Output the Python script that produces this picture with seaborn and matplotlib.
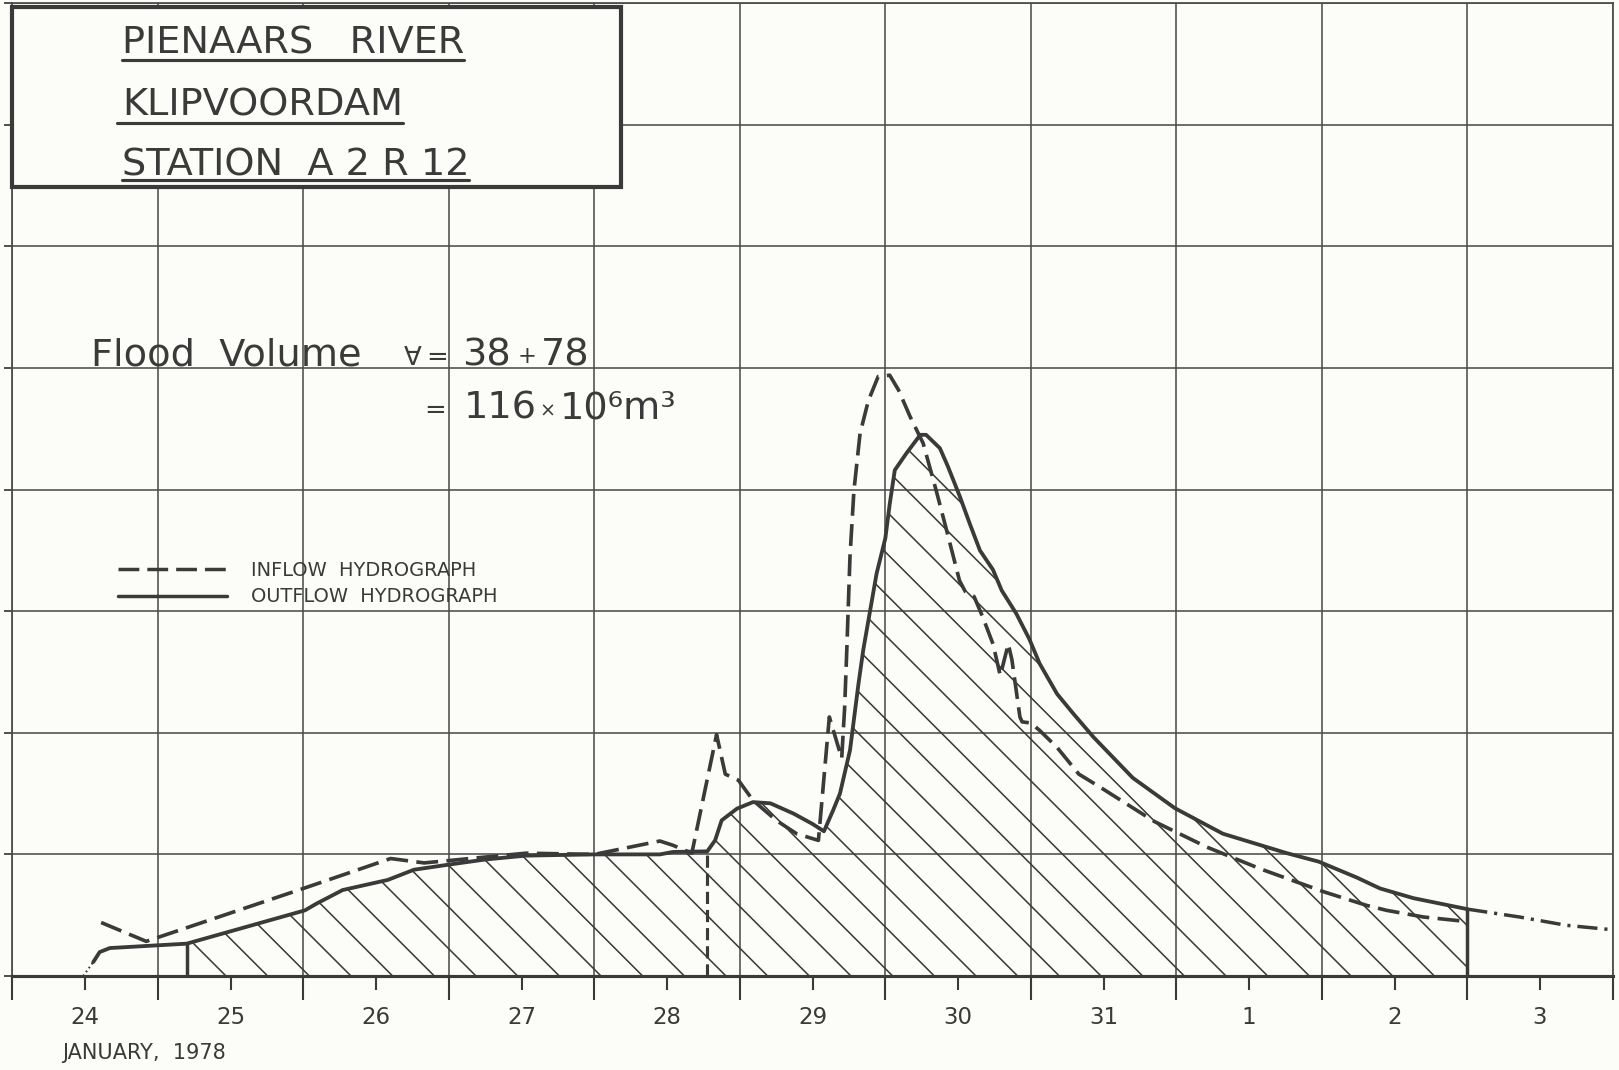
import numpy as np
import pandas as pd
import matplotlib
matplotlib.use("Agg")
import matplotlib.pyplot as plt
import seaborn as sns
from matplotlib.lines import Line2D
from matplotlib.patches import Rectangle

# ---------------- data ----------------
# x: days after 24 January 1978 00:00 ; y: discharge in chart grid units
day_labels = ["24", "25", "26", "27", "28", "29", "30", "31", "1", "2", "3"]

inflow_day = [0.61, 0.92, 2.00, 2.60, 2.83, 3.53, 4.00, 4.45, 4.54, 4.67, 4.84, 4.90,
              4.99, 5.09, 5.25, 5.39, 5.54, 5.615, 5.70, 5.72, 5.735, 5.757, 5.784,
              5.826, 5.883, 5.951, 6.03, 6.09, 6.17, 6.26, 6.35, 6.42, 6.48, 6.51,
              6.55, 6.61, 6.67, 6.74, 6.79, 6.845, 6.87, 6.925, 6.94, 7.00, 7.06,
              7.18, 7.33, 7.48, 7.85, 8.21, 8.58, 9.02, 9.31, 9.445, 9.70, 9.98]
inflow_q = [0.44, 0.285, 0.72, 0.966, 0.93, 1.01, 1.00, 1.11, 1.075, 1.01, 1.985, 1.66,
            1.61, 1.445, 1.28, 1.17, 1.115, 2.13, 1.79, 2.20, 2.68, 3.45, 3.99,
            4.46, 4.73, 4.93, 4.94, 4.82, 4.60, 4.38, 3.99, 3.67, 3.39, 3.25,
            3.16, 3.12, 2.95, 2.73, 2.47, 2.73, 2.60, 2.13, 2.09, 2.08, 2.02,
            1.88, 1.66, 1.55, 1.27, 1.06, 0.88, 0.69, 0.58, 0.54, 0.485, 0.45]

outflow_day = [0.556, 0.60, 0.67, 1.198, 2.011, 2.09, 2.27, 2.58, 2.76, 3.00, 3.25, 3.53,
               4.00, 4.45, 4.54, 4.776, 4.83, 4.875, 4.98, 5.09, 5.21, 5.37, 5.50,
               5.578, 5.64, 5.688, 5.757, 5.815, 5.848, 5.94, 6.00, 6.03, 6.065,
               6.146, 6.24, 6.28, 6.375, 6.43, 6.513, 6.58, 6.65, 6.74, 6.80, 6.90,
               6.99, 7.06, 7.18, 7.29, 7.43, 7.70, 7.99, 8.32, 8.76, 8.98, 9.24,
               9.40, 9.63, 10.0]
outflow_q = [0.115, 0.197, 0.23, 0.266, 0.54, 0.595, 0.707, 0.79, 0.874, 0.916, 0.958, 0.99,
             1.00, 1.00, 1.02, 1.025, 1.116, 1.28, 1.376, 1.43, 1.42, 1.335, 1.25,
             1.19, 1.36, 1.50, 1.856, 2.40, 2.68, 3.31, 3.60, 3.88, 4.16,
             4.30, 4.45, 4.45, 4.34, 4.19, 3.94, 3.72, 3.50, 3.34, 3.17, 2.98,
             2.77, 2.57, 2.32, 2.16, 1.965, 1.63, 1.38, 1.17, 1.01, 0.94, 0.81,
             0.72, 0.64, 0.55]

outflow_start_day = [0.487, 0.556]
outflow_start_q = [0.0, 0.115]

recession_day = [10.0, 10.36, 10.68, 11.0]
recession_q = [0.55, 0.485, 0.417, 0.38]

hatch_start_day = 1.198
split_day = 4.776

title_lines = ["PIENAARS   RIVER", "KLIPVOORDAM", "STATION  A 2 R 12"]
legend_labels = ["INFLOW  HYDROGRAPH", "OUTFLOW  HYDROGRAPH"]

# ---------------- style ----------------
sns.set_style("white")
plt.rcParams["font.family"] = ["DejaVu Sans"]
plt.rcParams["hatch.linewidth"] = 0.45
INK = "#3a3a3a"
GRID = "#4a4a4a"
BG = "#fcfcf8"
plt.rcParams["hatch.color"] = INK

DPI = 250
fig = plt.figure(figsize=(1619 / DPI, 1070 / DPI), dpi=DPI)
fig.patch.set_facecolor(BG)
ax = fig.add_axes([12 / 1568, 1 - 945 / 1036, 1550 / 1568, 942 / 1036])
ax.set_facecolor(BG)

df_in = pd.DataFrame({"day": inflow_day, "q": inflow_q})
df_out = pd.DataFrame({"day": outflow_day, "q": outflow_q})
df_start = pd.DataFrame({"day": outflow_start_day, "q": outflow_start_q})
df_rec = pd.DataFrame({"day": recession_day, "q": recession_q})

# hatched outflow volume
hx = np.array(outflow_day)
hq = np.array(outflow_q)
m = hx >= hatch_start_day
ax.fill_between(hx[m], 0, hq[m], facecolor="none", edgecolor=INK, hatch="\\\\",
                linewidth=0, zorder=2)
ax.vlines([hatch_start_day, hx[-1]], 0, [np.interp(hatch_start_day, hx, hq), hq[-1]],
          colors=INK, linewidth=1.0, zorder=3)

# split between the two volumes
ax.vlines([split_day], 0, [np.interp(split_day, hx, hq)], colors=INK, linewidth=0.9,
          linestyles=[(0, (3.9, 1.9))], zorder=3)

sns.lineplot(data=df_in, x="day", y="q", ax=ax, color=INK, linewidth=1.05,
             linestyle=(0, (6.0, 2.3)), estimator=None, sort=False, legend=False, zorder=4)
sns.lineplot(data=df_out, x="day", y="q", ax=ax, color=INK, linewidth=1.1,
             estimator=None, sort=False, legend=False, zorder=4)
sns.lineplot(data=df_start, x="day", y="q", ax=ax, color=INK, linewidth=0.6,
             linestyle=(0, (0.8, 1.5)), estimator=None, sort=False, legend=False, zorder=4)
sns.lineplot(data=df_rec, x="day", y="q", ax=ax, color=INK, linewidth=1.0,
             linestyle=(0, (5.8, 2.0, 0.9, 2.0)), estimator=None, sort=False,
             legend=False, zorder=4)

# axes, ticks, grid
ax.set_xlim(0, 11)
ax.set_ylim(0, 8)
ax.set_xlabel("")
ax.set_ylabel("")
ax.set_xticks(np.arange(0, 12))
ax.set_xticklabels([])
ax.set_xticks(np.arange(0.5, 11), labels=day_labels, minor=True)
ax.set_yticks(np.arange(0, 9))
ax.set_yticklabels([])
ax.grid(True, which="major", color=GRID, linewidth=0.45, zorder=1)
ax.set_axisbelow(True)
ax.tick_params(axis="x", which="major", bottom=True, length=6.8, width=0.6,
               direction="out", color=INK)
ax.tick_params(axis="x", which="minor", bottom=True, length=3.9, width=0.6,
               direction="out", color=INK, pad=4.6, labelsize=6.6, labelcolor=INK)
ax.tick_params(axis="y", which="major", left=True, length=2.3, width=0.5,
               direction="out", color=INK)
for s in ["top", "right", "left"]:
    ax.spines[s].set_color(GRID)
    ax.spines[s].set_linewidth(0.5)
ax.spines["bottom"].set_color(INK)
ax.spines["bottom"].set_linewidth(0.9)

ax.text(0.031, -0.079, "JANUARY,  1978", transform=ax.transAxes, fontsize=6.0,
        color=INK, va="center", ha="left")

# legend
handles = [Line2D([], [], color=INK, lw=1.0, linestyle=(0, (6.0, 2.3))),
           Line2D([], [], color=INK, lw=1.0)]
ax.legend(handles, legend_labels, loc="upper left", bbox_to_anchor=(0.066, 0.427),
          frameon=False, fontsize=5.6, handlelength=5.6, handletextpad=1.25,
          labelspacing=0.40, borderpad=0, borderaxespad=0, labelcolor=INK)

# flood volume annotation
fv = dict(transform=ax.transAxes, color=INK, va="baseline", ha="left")
ax.text(0.0494, 0.6279, "Flood  Volume", fontsize=11, **fv)
ax.text(0.2447, 0.6279, "∀", fontsize=7.5, **fv)
ax.text(0.2585, 0.6279, "=", fontsize=7.5, **fv)
ax.text(0.2809, 0.6279, "38", fontsize=11, **fv)
ax.text(0.3160, 0.6300, "+", fontsize=6.5, **fv)
ax.text(0.3300, 0.6279, "78", fontsize=11, **fv)
ax.text(0.2575, 0.5731, "=", fontsize=7.5, **fv)
ax.text(0.2822, 0.5731, "116", fontsize=11, **fv)
ax.text(0.3290, 0.5745, "×", fontsize=5.5, **fv)
ax.text(0.3420, 0.5731, "10⁶m³", fontsize=11, **fv)

# title box
ax.add_patch(Rectangle((0.0, 0.8113), 0.380, 0.185, transform=ax.transAxes,
                       facecolor=BG, edgecolor=INK, linewidth=1.2, zorder=5,
                       clip_on=False))
baselines = [0.9483, 0.8849, 0.8232]
underlines = [0.9416, 0.8769, 0.8180]
left_ext = [0.0, 0.003, 0.0]
tts = []
for txt, yb in zip(title_lines, baselines):
    tts.append(ax.text(0.0684, yb, txt, transform=ax.transAxes, fontsize=11,
                       color=INK, va="baseline", ha="left", zorder=6))

fig.canvas.draw()
r = fig.canvas.get_renderer()
inv = ax.transAxes.inverted()
for t, uy, le in zip(tts, underlines, left_ext):
    bb = t.get_window_extent(r).transformed(inv)
    ax.add_line(Line2D([bb.x0 - le, bb.x1], [uy, uy], transform=ax.transAxes,
                       color=INK, lw=0.9, zorder=6, clip_on=False))

fig.savefig("out.png", dpi=DPI, facecolor=BG)
